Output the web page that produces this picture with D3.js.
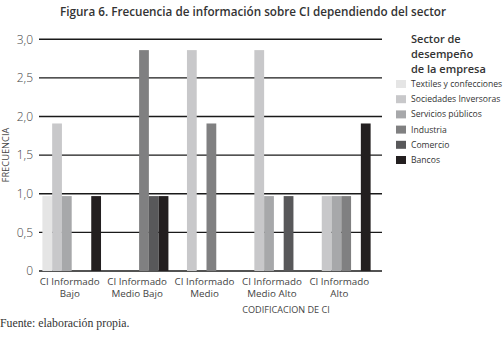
<!DOCTYPE html>
<html>
<head>
<meta charset="utf-8">
<script src="https://cdn.jsdelivr.net/npm/d3@7"></script>
<style>
    body { margin: 0; background: #fff; }
    #chart-area { width: 504px; height: 338px; }
    text { font-family: "Open Sans", sans-serif; }
</style>
</head>
<body>
<div id="chart-area"></div>
<script>
// categories (x axis), two lines each
let categories = ["Bajo", "Medio Bajo", "Medio", "Medio Alto", "Alto"];
let categoryLines = [
    ["CI Informado", "Bajo"],
    ["CI Informado", "Medio Bajo"],
    ["CI Informado", "Medio"],
    ["CI Informado", "Medio Alto"],
    ["CI Informado", "Alto"]
];

// sectors (series)
let sectors = ["Textiles y confecciones", "Sociedades Inversoras", "Servicios públicos", "Industria", "Comercio", "Bancos"];

// values per sector, one per category
let textiles    = [0.97, 0, 0, 0, 0];
let sociedades  = [1.91, 0, 2.86, 2.86, 0.97];
let servicios   = [0.97, 0, 0, 0.97, 0.97];
let industria   = [0, 2.86, 1.91, 0, 0.97];
let comercio    = [0, 0.97, 0, 0.97, 0];
let bancos      = [0.97, 0.97, 0, 0, 1.91];

let yTicks = [0, 0.5, 1, 1.5, 2, 2.5, 3];
let yTickLabels = ["0", "0,5", "1,0", "1,5", "2,0", "2,5", "3,0"];

class BarVis {
    constructor(_parentElement) {
        this.parentElement = _parentElement;
        this.series = [textiles, sociedades, servicios, industria, comercio, bancos];
        this.colors = ["#e5e5e5", "#c8c8ca", "#a7a8aa", "#808081", "#58585a", "#231f20"];
        this.initVis();
    }

    initVis() {
        let vis = this;

        vis.svg = d3.select("#" + vis.parentElement).append("svg")
            .attr("width", 504)
            .attr("height", 338);

        // scales
        vis.x0 = d3.scaleBand().domain(categories).range([38, 375])
            .paddingInner(0.13).paddingOuter(0.065);
        vis.x1 = d3.scaleBand().domain(sectors).range([0, vis.x0.bandwidth()]);
        vis.y = d3.scaleLinear().domain([0, 3]).range([271, 39.3]);

        // title
        vis.svg.append("text")
            .attr("x", 253).attr("y", 16)
            .attr("text-anchor", "middle")
            .attr("font-size", 11.7).attr("font-weight", 600)
            .attr("fill", "#333")
            .text("Figura 6. Frecuencia de información sobre CI dependiendo del sector");

        // grid lines
        vis.svg.append("g").attr("class", "grid")
            .selectAll("line").data(yTicks).join("line")
            .attr("x1", 39).attr("x2", 382)
            .attr("y1", d => vis.y(d)).attr("y2", d => vis.y(d))
            .attr("stroke", "#1a1a1a").attr("stroke-width", 1.4);

        // y axis labels
        vis.yAxis = vis.svg.append("g")
            .attr("class", "axis axis--y")
            .attr("transform", "translate(33,0)")
            .call(d3.axisLeft(vis.y).tickValues(yTicks).tickSize(0).tickPadding(0)
                .tickFormat((d, i) => yTickLabels[i]));
        vis.yAxis.select(".domain").remove();
        vis.yAxis.selectAll("text").attr("font-size", 12).attr("fill", "#444")
            .style("font-family", "'Open Sans', sans-serif").style("font-weight", 300);

        vis.svg.append("text")
            .attr("transform", "translate(9,155) rotate(-90)")
            .attr("text-anchor", "middle")
            .attr("font-size", 9.3).attr("fill", "#444")
            .text("FRECUENCIA");

        // bars
        let groups = vis.svg.append("g").attr("class", "bars")
            .selectAll("g").data(categories).join("g")
            .attr("transform", d => `translate(${vis.x0(d)},0)`);

        groups.selectAll("rect")
            .data((d, i) => sectors.map((s, j) => ({sector: s, value: vis.series[j][i], color: vis.colors[j]})))
            .join("rect")
            .attr("x", d => vis.x1(d.sector))
            .attr("width", vis.x1.bandwidth())
            .attr("y", d => vis.y(d.value))
            .attr("height", d => vis.y(0) - vis.y(d.value))
            .attr("fill", d => d.color);

        // x axis labels
        vis.xAxis = vis.svg.append("g")
            .attr("class", "axis axis--x")
            .attr("transform", "translate(-2,273)")
            .call(d3.axisBottom(vis.x0).tickSize(0).tickFormat(""));
        vis.xAxis.select(".domain").remove();
        vis.xAxis.selectAll(".tick").each(function (d, i) {
            let t = d3.select(this).append("text")
                .attr("text-anchor", "middle")
                .attr("font-size", 9.8).attr("fill", "#444")
                .style("font-family", "'Open Sans', sans-serif");
            categoryLines[i].forEach((line, k) => {
                t.append("tspan").attr("x", 0).attr("y", 11.5 + k * 12.5).text(line);
            });
        });

        vis.svg.append("text")
            .attr("x", 286).attr("y", 313)
            .attr("text-anchor", "middle")
            .attr("font-size", 9.1).attr("fill", "#444")
            .text("CODIFICACION DE CI");

        // source note
        vis.svg.append("text")
            .attr("x", 0).attr("y", 327)
            .attr("font-size", 11.8).attr("fill", "#333")
            .style("font-family", "'Liberation Serif', 'DejaVu Serif', serif")
            .text("Fuente: elaboración propia.");

        // legend
        vis.legend = vis.svg.append("g")
            .attr("class", "legend")
            .attr("transform", "translate(396,0)");

        ["Sector de", "desempeño", "de la empresa"].forEach((line, k) => {
            vis.legend.append("text")
                .attr("x", 15).attr("y", 43 + k * 15)
                .attr("font-size", 11).attr("font-weight", 600).attr("fill", "#333")
                .text(line);
        });

        let items = vis.legend.selectAll(".item").data(sectors).join("g")
            .attr("class", "item")
            .attr("transform", (d, i) => `translate(0,${84 + i * 15.2})`);

        items.append("rect")
            .attr("x", 0).attr("y", -4)
            .attr("width", 10).attr("height", 8)
            .attr("fill", (d, i) => vis.colors[i]);

        items.append("text")
            .attr("x", 15).attr("y", 3)
            .attr("font-size", 8.6).attr("fill", "#333")
            .text(d => d);
    }
}

let barVis = new BarVis("chart-area");
</script>
</body>
</html>
